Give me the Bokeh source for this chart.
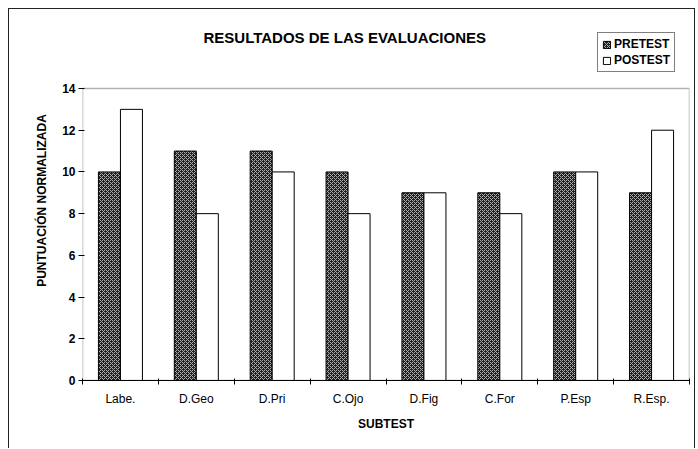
import numpy as np
from bokeh.plotting import figure
from bokeh.models import (ColumnDataSource, FixedTicker, Legend, LegendItem, Range1d,
                          BoxAnnotation, Label)
from bokeh.transform import dodge
from bokeh.embed import file_html
from bokeh.resources import INLINE

categories = ["Labe.", "D.Geo", "D.Pri", "C.Ojo", "D.Fig", "C.For", "P.Esp", "R.Esp."]
pretest = [10, 11, 11, 10, 9, 9, 10, 9]
postest = [13, 8, 10, 8, 9, 8, 10, 12]
y_ticks = [0, 2, 4, 6, 8, 10, 12, 14]
title_text = "RESULTADOS DE LAS EVALUACIONES"

FONT = "Liberation Sans"
pos = np.arange(len(categories)) + 0.5
bw = 0.29
y_top = y_ticks[-1]

# frame extends above the plotting box so that the title and legend can live inside it
frame_h = 360
box_h = 292
y_max = y_top * frame_h / box_h

src = ColumnDataSource(dict(x=pos, cat=categories, pre=pretest, post=postest))

p = figure(width=687, height=440, output_backend="svg", toolbar_location=None,
           title_location=None,
           x_range=Range1d(0, len(categories)), y_range=Range1d(0, y_max),
           min_border_left=73, min_border_right=7, min_border_top=11, min_border_bottom=69,
           styles={"margin-left": "8px", "margin-top": "8px",
                   "border-left": "1px solid #222", "border-top": "1px solid #222",
                   "border-right": "1px solid #222"})

r_pre = p.vbar(x=dodge("x", -bw / 2), top="pre", width=bw, source=src, fill_color="#1e1e1e",
               hatch_pattern="diagonal_cross", hatch_color="#b0b0b0", hatch_scale=4,
               hatch_weight=1, line_color="black", line_width=1)
r_post = p.vbar(x=dodge("x", bw / 2), top="post", width=bw, source=src,
                fill_color="white", line_color="black", line_width=1)

p.xgrid.visible = False
p.ygrid.visible = False
p.outline_line_color = None
p.background_fill_color = "white"

# plot-area border (0..14 box)
p.add_layout(BoxAnnotation(left=0, right=len(categories), bottom=0, top=y_top,
                           fill_alpha=0, line_color="black", line_width=1.5))

p.add_layout(Label(x=121, y=343, x_units="screen", y_units="screen", text=title_text,
                   text_font=FONT, text_font_size="15px", text_font_style="bold",
                   text_color="black", text_align="left", text_baseline="middle"))

xa = p.xaxis[0]
xa.ticker = FixedTicker(ticks=list(pos), minor_ticks=list(range(len(categories) + 1)))
xa.major_label_overrides = {float(v): c for v, c in zip(pos, categories)}
xa.major_tick_line_color = None
xa.minor_tick_out = 4
xa.minor_tick_in = 2
xa.minor_tick_line_color = "black"
xa.axis_line_color = "black"
xa.major_label_text_font = FONT
xa.major_label_text_color = "black"
xa.major_label_text_font_size = "12px"
xa.major_label_standoff = 5
xa.axis_label = "SUBTEST"
xa.axis_label_text_font = FONT
xa.axis_label_text_font_style = "bold"
xa.axis_label_text_color = "black"
xa.axis_label_text_font_size = "12px"
xa.axis_label_standoff = 8

ya = p.yaxis[0]
ya.ticker = FixedTicker(ticks=y_ticks)
ya.minor_tick_line_color = None
ya.axis_line_color = None
ya.major_tick_out = 4
ya.major_tick_in = 2
ya.major_label_text_font = FONT
ya.major_label_text_font_style = "bold"
ya.major_label_text_color = "black"
ya.major_label_text_font_size = "12px"
ya.major_label_standoff = 3
ya.axis_label = "PUNTUACIÓN NORMALIZADA"
ya.axis_label_text_font = FONT
ya.axis_label_text_font_style = "bold"
ya.axis_label_text_color = "black"
ya.axis_label_text_font_size = "12px"
ya.axis_label_standoff = 10

legend = Legend(items=[LegendItem(label="PRETEST", renderers=[r_pre]),
                       LegendItem(label="POSTEST", renderers=[r_post])],
                location=(515, 308))
legend.label_text_font = FONT
legend.label_text_font_style = "bold"
legend.label_text_color = "black"
legend.label_text_font_size = "12px"
legend.glyph_width = 9
legend.glyph_height = 9
legend.label_standoff = 3
legend.spacing = 2
legend.padding = 4
legend.margin = 0
legend.label_height = 13
legend.border_line_color = "black"
legend.border_line_width = 1
legend.background_fill_alpha = 1
p.add_layout(legend, "center")

open("out.html", "w").write(file_html(p, INLINE))
